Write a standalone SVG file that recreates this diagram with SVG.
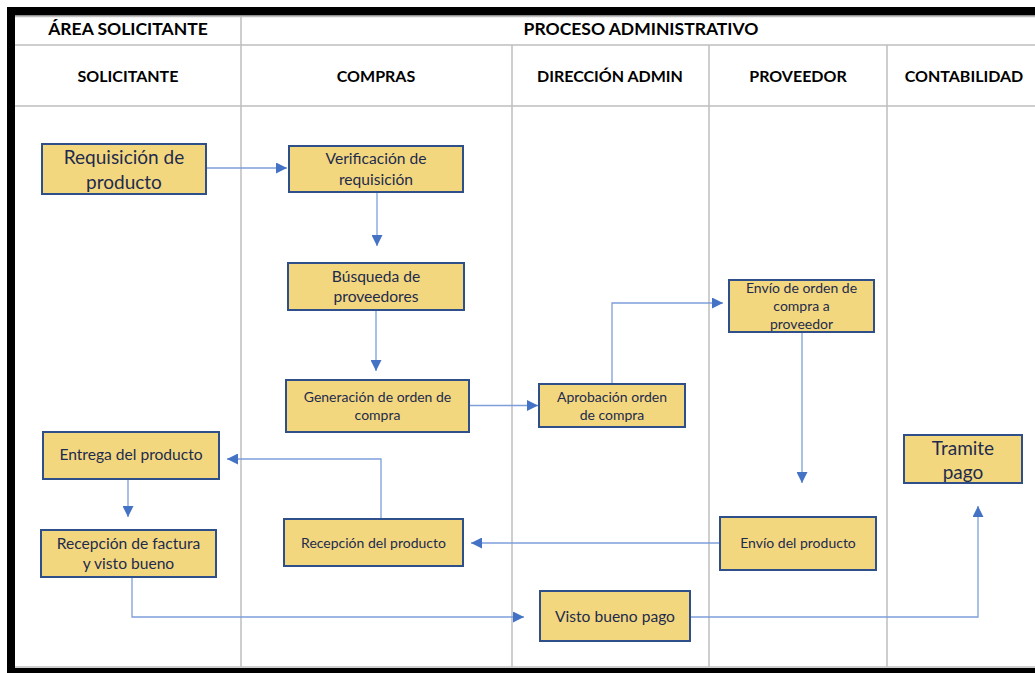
<svg xmlns="http://www.w3.org/2000/svg" width="1035" height="673" viewBox="0 0 1035 673">
<style>
.grid{stroke:#BFBFBF;stroke-width:1.5;fill:none}
.hdr{font-family:Lato,"Liberation Sans",sans-serif;font-weight:bold;font-size:17.5px;fill:#000;text-anchor:middle}
.h2{font-size:16px}
.box{fill:#F3D77F;stroke:#2F4F8A;stroke-width:2}
.t{font-family:Lato,"Open Sans","Liberation Sans",sans-serif;fill:#1E2B4C;text-anchor:middle;font-size:15.6px}
.big{font-size:19px}
.sm{font-size:14px}
.con{fill:none;stroke:#7E9EDA;stroke-width:1.3}
</style>
<defs>
<marker id="ah" markerUnits="userSpaceOnUse" markerWidth="11" markerHeight="11" refX="11" refY="5.5" orient="auto">
<path d="M0,0 L11,5.5 L0,11 z" fill="#4472C4"/>
</marker>
</defs>
<rect x="0" y="0" width="1035" height="673" fill="#fff"/>
<g id="frame">
<rect x="7" y="7" width="1028" height="8.5" fill="#000"/>
<rect x="7" y="7" width="8" height="666" fill="#000"/>
<rect x="7" y="668" width="1028" height="5" fill="#000"/>
<path class="grid" d="M15,16.5 H1035 M15,45 H1035 M15,106 H1035 M15,667 H1035 M241,16 V667 M512,45 V667 M709,45 V667 M887,45 V667"/>
</g>
<g id="headers">
<text class="hdr" x="128" y="35">ÁREA SOLICITANTE</text>
<text class="hdr" x="641" y="35">PROCESO ADMINISTRATIVO</text>
<text class="hdr h2" x="128" y="81.5">SOLICITANTE</text>
<text class="hdr h2" x="376" y="81.5">COMPRAS</text>
<text class="hdr h2" x="610" y="81.5">DIRECCIÓN ADMIN</text>
<text class="hdr h2" x="798" y="81.5">PROVEEDOR</text>
<text class="hdr h2" x="964" y="81.5">CONTABILIDAD</text>
</g>
<g id="connectors">
<path class="con" d="M206,168 H287" marker-end="url(#ah)"/>
<path class="con" d="M377,192 V246" marker-end="url(#ah)"/>
<path class="con" d="M376,310 V371" marker-end="url(#ah)"/>
<path class="con" d="M469,405.5 H538" marker-end="url(#ah)"/>
<path class="con" d="M612,384 V303 H723" marker-end="url(#ah)"/>
<path class="con" d="M802,332 V483" marker-end="url(#ah)"/>
<path class="con" d="M720,543 H471" marker-end="url(#ah)"/>
<path class="con" d="M381,519 V459 H227" marker-end="url(#ah)"/>
<path class="con" d="M128,479 V517" marker-end="url(#ah)"/>
<path class="con" d="M132,577 V617 H524" marker-end="url(#ah)"/>
<path class="con" d="M690,617 H978 V506" marker-end="url(#ah)"/>
</g>
<g id="n1"><rect class="box" x="42" y="144" width="164" height="50"/>
<text class="t big" x="124" y="164">Requisición de</text><text class="t big" x="124" y="188.5">producto</text></g>
<g id="n2"><rect class="box" x="289" y="146" width="174" height="46"/>
<text class="t" x="376" y="163.5">Verificación de</text><text class="t" x="376" y="184.5">requisición</text></g>
<g id="n3"><rect class="box" x="288" y="263" width="176" height="47"/>
<text class="t" x="376" y="281.5">Búsqueda de</text><text class="t" x="376" y="301.5">proveedores</text></g>
<g id="n4"><rect class="box" x="286" y="380" width="183" height="52"/>
<text class="t sm" x="377.5" y="401.5">Generación de orden de</text><text class="t sm" x="377.5" y="419.5">compra</text></g>
<g id="n5"><rect class="box" x="539" y="384" width="146" height="43"/>
<text class="t sm" x="612" y="401.5">Aprobación orden</text><text class="t sm" x="612" y="419.5">de compra</text></g>
<g id="n6"><rect class="box" x="729" y="280" width="145" height="52"/>
<text class="t sm" x="801.5" y="293">Envío de orden de</text><text class="t sm" x="801.5" y="311">compra a</text><text class="t sm" x="801.5" y="328.5">proveedor</text></g>
<g id="n7"><rect class="box" x="904" y="435" width="118" height="48"/>
<text class="t big" x="963" y="454.5">Tramite</text><text class="t big" x="963" y="478.5">pago</text></g>
<g id="n8"><rect class="box" x="720" y="517" width="156" height="53"/>
<text class="t sm" x="798" y="548">Envío del producto</text></g>
<g id="n9"><rect class="box" x="540" y="591" width="150" height="50"/>
<text class="t" x="615" y="621.5">Visto bueno pago</text></g>
<g id="n10"><rect class="box" x="43" y="432" width="176" height="47"/>
<text class="t" x="131" y="459.5">Entrega del producto</text></g>
<g id="n11"><rect class="box" x="41" y="530" width="175" height="47"/>
<text class="t" x="128.5" y="548.5">Recepción de factura</text><text class="t" x="128.5" y="568.5">y visto bueno</text></g>
<g id="n12"><rect class="box" x="284" y="519" width="179" height="47"/>
<text class="t sm" x="373.5" y="547.5">Recepción del producto</text></g>
</svg>
